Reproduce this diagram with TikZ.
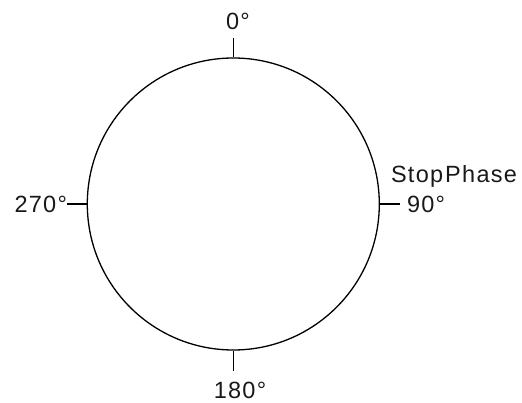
\documentclass[tikz,border=0pt]{standalone}
\usepackage{fontspec}
\setmainfont{Liberation Sans}[LetterSpace=5.5]
\begin{document}
\begin{tikzpicture}[x=1pt,y=-1pt,
  lbl/.style={inner sep=0pt,outer sep=0pt,text=black!90,font=\fontsize{23.5}{26}\selectfont},
  tick/.style={line width=1.2pt}]
\useasboundingbox (0,0) rectangle (522,403);
\node[circle,draw,line width=1.3pt,minimum size=292pt,inner sep=0pt] (c) at (233.3,204) {};
\coordinate (t0) at (233.3,38);
\coordinate (t180) at (233.3,371);
\coordinate (t270) at (67,204);
\coordinate (t90) at (400,204);
\draw[tick] (c.north) -- (t0);
\draw[tick] (c.south) -- (t180);
\draw[tick] (c.west) -- (t270);
\draw[tick] (c.east) -- (t90);
\node[lbl,anchor=base] (l0) at (238,30) {0°};
\node[lbl,anchor=base] (l180) at (240,398) {180°};
\node[lbl,anchor=base east] (l270) at (67,213) {270°};
\node[lbl,anchor=base west] (l90) at (407,213) {90°};
\node[lbl,anchor=base west] (ls) at (391,183) {Stop\hspace{2pt}Phase};
\end{tikzpicture}
\end{document}
